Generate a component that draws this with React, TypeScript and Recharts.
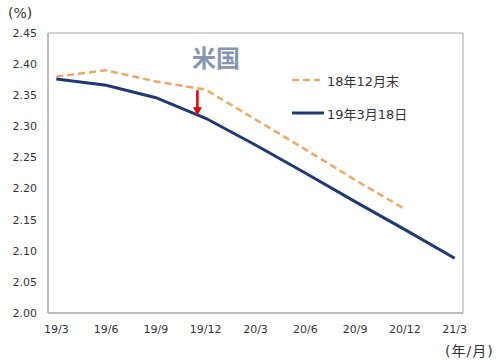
import React from 'react';
import { LineChart, Line, XAxis, YAxis, ReferenceArea, ReferenceLine } from 'recharts';

// quarter labels and their month offsets from 19/3
const QUARTERS = ['19/3', '19/6', '19/9', '19/12', '20/3', '20/6', '20/9', '20/12', '21/3'];
const MONTHS = [0, 3, 6, 9, 12, 15, 18, 21, 24];
const END_2018 = [2.38, 2.39, 2.372, 2.359, 2.311, 2.263, 2.214, 2.167, null];
const MAR_18_2019 = [2.376, 2.366, 2.346, 2.313, 2.27, 2.225, 2.179, 2.134, 2.088];
const Y_TICKS = [2.0, 2.05, 2.1, 2.15, 2.2, 2.25, 2.3, 2.35, 2.4, 2.45];
// tick marks sit between the monthly categories
const MARK_TICKS = [2.5, 5.5, 8.5, 11.5, 14.5, 17.5, 20.5, 23.5];

const ORANGE = '#f2a865';
const NAVY = '#1f3a73';
const AXIS = '#a6a6a6';
const FONT = '"DejaVu Sans", Verdana, sans-serif';
const MIXED = '"DejaVu Sans", "Noto Sans CJK JP", sans-serif';

const data = MONTHS.map((m, i) => ({
  m,
  label: QUARTERS[i],
  dec: END_2018[i],
  mar: MAR_18_2019[i],
}));

const Arrow = (p: any) => {
  const { x1, y1, x2, y2 } = p;
  return (
    <g>
      <line x1={x1} y1={y1} x2={x2} y2={y2 - 7} stroke="#e00000" strokeWidth={2.5} />
      <polygon points={`${x2 - 4.5},${y2 - 8} ${x2 + 4.5},${y2 - 8} ${x2},${y2}`} fill="#e00000" />
    </g>
  );
};

export default function App() {
  return (
    <div style={{ position: 'absolute', left: 0, top: 0, width: 500, height: 363, background: '#fff', fontFamily: FONT }}>
      <LineChart width={500} height={363} data={data} margin={{ top: 33, right: 37, bottom: 0, left: 0 }}>
        <XAxis
          dataKey="m"
          type="number"
          domain={[-0.5, 24.5]}
          ticks={MONTHS}
          tickFormatter={(v: number) => QUARTERS[MONTHS.indexOf(v)]}
          axisLine={{ stroke: AXIS }}
          tickLine={false}
          tickSize={0}
          tickMargin={12}
          height={50}
          tick={{ fontSize: 11, fill: '#333', fontFamily: FONT }}
        />
        <XAxis
          xAxisId="marks"
          dataKey="m"
          type="number"
          domain={[-0.5, 24.5]}
          ticks={MARK_TICKS}
          mirror
          axisLine={false}
          tick={false}
          tickSize={4}
          tickLine={{ stroke: AXIS }}
        />
        <YAxis
          type="number"
          domain={[2.0, 2.45]}
          ticks={Y_TICKS}
          allowDataOverflow
          tickFormatter={(v: number) => v.toFixed(2)}
          axisLine={{ stroke: AXIS }}
          tickLine={false}
          tickSize={0}
          tickMargin={11}
          width={48}
          tick={{ fontSize: 11, fill: '#333', fontFamily: FONT }}
        />
        <YAxis
          yAxisId="marks"
          type="number"
          domain={[2.0, 2.45]}
          ticks={Y_TICKS}
          allowDataOverflow
          mirror
          axisLine={false}
          tick={false}
          tickSize={4}
          tickLine={{ stroke: AXIS }}
        />
        <ReferenceArea x1={-0.5} x2={24.5} y1={2.0} y2={2.45} fill="none" stroke={AXIS} strokeWidth={1} />
        <Line
          dataKey="dec"
          type="linear"
          stroke={ORANGE}
          strokeWidth={2.5}
          strokeDasharray="7 4"
          dot={false}
          connectNulls={false}
          isAnimationActive={false}
        />
        <Line
          dataKey="mar"
          type="linear"
          stroke={NAVY}
          strokeWidth={3}
          dot={false}
          isAnimationActive={false}
        />
        <ReferenceLine
          segment={[{ x: 8.5, y: 2.358 }, { x: 8.5, y: 2.318 }]}
          shape={Arrow}
          ifOverflow="visible"
        />
      </LineChart>

      <div style={{ position: 'absolute', left: 8, top: 5, fontSize: 14, color: '#333', fontFamily: MIXED }}>(%)</div>
      <div style={{ position: 'absolute', left: 445, top: 340, fontSize: 14, color: '#333', fontFamily: MIXED, letterSpacing: 1 }}>(年/月)</div>
      <div
        style={{
          position: 'absolute',
          left: 192,
          top: 42,
          fontSize: 24,
          lineHeight: '30px',
          fontWeight: 'bold',
          color: '#8496b0',
          fontFamily: '"Noto Sans CJK JP", sans-serif',
        }}
      >
        米国
      </div>

      <div style={{ position: 'absolute', left: 292, top: 71, fontSize: 13, color: '#333', fontFamily: MIXED }}>
        <div style={{ position: 'absolute', top: 0, display: 'flex', alignItems: 'center', height: 18, whiteSpace: 'nowrap' }}>
          <svg width={30} height={6} style={{ marginRight: 5 }}>
            <line x1={0} y1={3} x2={28} y2={3} stroke={ORANGE} strokeWidth={2.5} strokeDasharray="7 4" />
          </svg>
          <span>18年12月末</span>
        </div>
        <div style={{ position: 'absolute', top: 33, display: 'flex', alignItems: 'center', height: 18, whiteSpace: 'nowrap' }}>
          <svg width={32} height={6} style={{ marginRight: 3 }}>
            <line x1={0} y1={3} x2={32} y2={3} stroke={NAVY} strokeWidth={3} />
          </svg>
          <span>19年3月18日</span>
        </div>
      </div>
    </div>
  );
}
